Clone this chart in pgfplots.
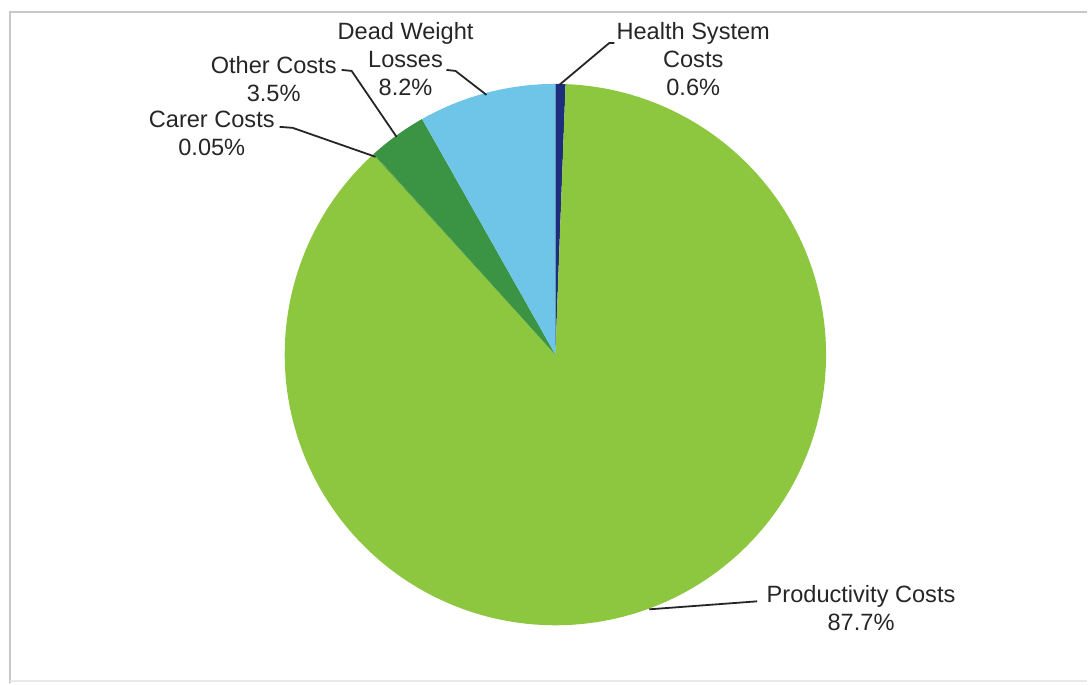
\documentclass[border=0pt]{standalone}
\usepackage{pgfplots}
\pgfplotsset{compat=1.18}
\usepackage{fontspec}
\setmainfont{Liberation Sans}
\definecolor{prodgreen}{HTML}{8DC63F}
\definecolor{othergreen}{HTML}{3A9444}
\definecolor{carergreen}{HTML}{4E9A3E}
\definecolor{dwlblue}{HTML}{6EC5E7}
\definecolor{healthnavy}{HTML}{1C2F7C}
\definecolor{txt}{HTML}{262626}
\definecolor{frame}{HTML}{C8C8C8}
% shares (percent), clockwise from 12 o'clock
\def\vHealth{0.6}
\def\vProd{87.7}
\def\vCarer{0.05}
\def\vOther{3.5}
\def\vDWL{8.2}
\pgfmathsetmacro{\k}{360/(\vHealth+\vProd+\vCarer+\vOther+\vDWL)}
\pgfmathsetmacro{\aO}{90}
\pgfmathsetmacro{\aA}{\aO-\vHealth*\k}
\pgfmathsetmacro{\aB}{\aA-\vProd*\k}
\pgfmathsetmacro{\aC}{\aB-\vCarer*\k}
\pgfmathsetmacro{\aD}{\aC-\vOther*\k}
\pgfmathsetmacro{\aE}{\aD-\vDWL*\k}
\def\cx{556}
\def\cy{329}
\def\R{271}
\begin{document}
\begin{tikzpicture}[lbl/.style={align=center, text=txt, font=\fontsize{11.8}{14}\selectfont, inner sep=0pt}]
\begin{axis}[
  width=544pt, height=342pt, scale only axis,
  xmin=0, xmax=1088, ymin=0, ymax=684,
  hide axis, clip=false,
]
\path (rel axis cs:0,0) rectangle (rel axis cs:1,1);
% frame
\addplot[frame, line width=1.2pt] coordinates {(10,0) (10,672) (1088,672)};
\addplot[frame!40, line width=0.8pt] coordinates {(10,2) (1088,2)};
% wedges
\addplot[fill=healthnavy, draw=none, domain=\aA:\aO, samples=20, variable=\t] ({\cx+\R*cos(\t)},{\cy+\R*sin(\t)}) -- (axis cs:\cx,\cy) -- cycle;
\addplot[fill=prodgreen, draw=none, domain=\aB:\aA, samples=200, variable=\t] ({\cx+\R*cos(\t)},{\cy+\R*sin(\t)}) -- (axis cs:\cx,\cy) -- cycle;
\addplot[fill=carergreen, draw=none, domain=\aC:\aB, samples=5, variable=\t] ({\cx+\R*cos(\t)},{\cy+\R*sin(\t)}) -- (axis cs:\cx,\cy) -- cycle;
\addplot[fill=othergreen, draw=none, domain=\aD:\aC, samples=20, variable=\t] ({\cx+\R*cos(\t)},{\cy+\R*sin(\t)}) -- (axis cs:\cx,\cy) -- cycle;
\addplot[fill=dwlblue, draw=none, domain=\aE:\aD, samples=40, variable=\t] ({\cx+\R*cos(\t)},{\cy+\R*sin(\t)}) -- (axis cs:\cx,\cy) -- cycle;
% leader lines
\addplot[txt, line width=0.9pt] coordinates {(560,599) (610,641) (615,641)};
\addplot[txt, line width=0.9pt] coordinates {(447,614) (456,613) (487,589)};
\addplot[txt, line width=0.9pt] coordinates {(342,614) (352,613) (397,547)};
\addplot[txt, line width=0.9pt] coordinates {(280,557) (293,556) (376,527)};
\addplot[txt, line width=0.9pt] coordinates {(650,74) (758,82)};
% labels
\node[lbl] at (axis cs:694,625) {Health System\\Costs\\0.6\%};
\node[lbl] at (axis cs:406,625) {Dead Weight\\Losses\\8.2\%};
\node[lbl] at (axis cs:274,605) {Other Costs\\3.5\%};
\node[lbl] at (axis cs:212,550) {Carer Costs\\0.05\%};
\node[lbl] at (axis cs:862,75) {Productivity Costs\\87.7\%};
\end{axis}
\end{tikzpicture}
\end{document}
